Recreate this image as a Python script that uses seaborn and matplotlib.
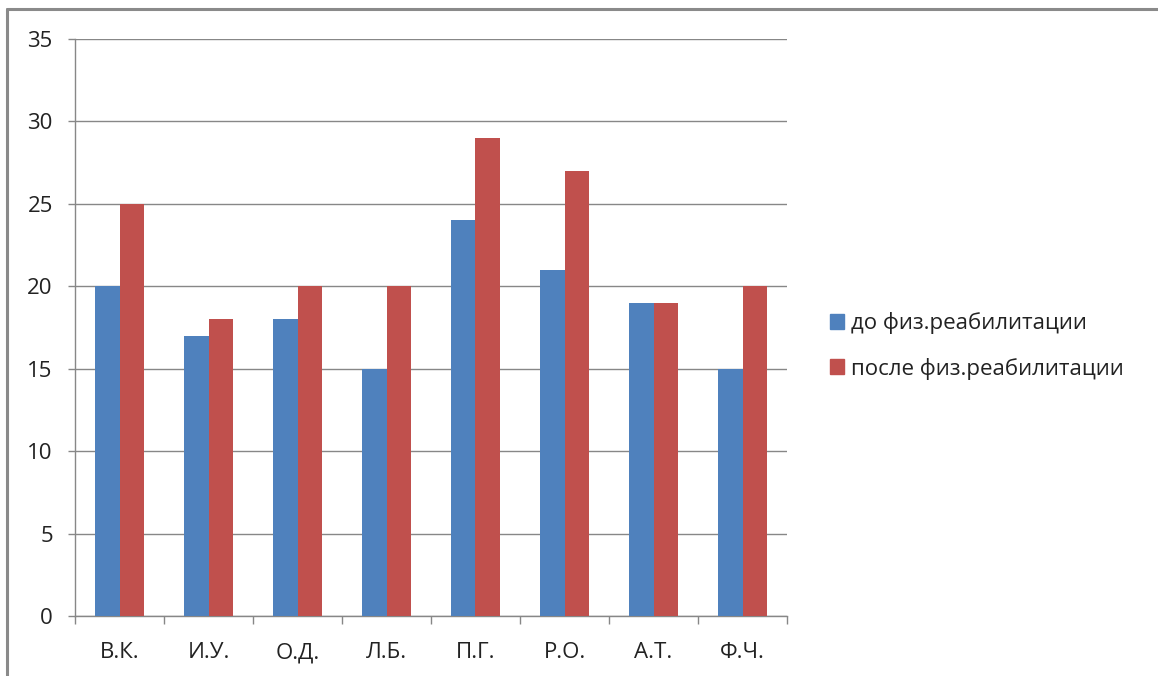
import matplotlib
matplotlib.use("Agg")
import matplotlib.pyplot as plt
from matplotlib.lines import Line2D
import seaborn as sns
import pandas as pd

# Scores per patient before and after physical rehabilitation
patients = ["В.К.", "И.У.", "О.Д.", "Л.Б.", "П.Г.", "Р.О.", "А.Т.", "Ф.Ч."]
before = [20, 17, 18, 15, 24, 21, 19, 15]
after = [25, 18, 20, 20, 29, 27, 19, 20]
series_names = ["до физ.реабилитации", "после физ.реабилитации"]
y_ticks = [0, 5, 10, 15, 20, 25, 30, 35]

sns.set_theme(style="white")
plt.rcParams["font.family"] = ["Open Sans", "DejaVu Sans"]

df = pd.DataFrame({
    "patient": patients * 2,
    "value": before + after,
    "series": [series_names[0]] * len(patients) + [series_names[1]] * len(patients),
})

fig = plt.figure(figsize=(11.58, 6.76), dpi=100)
ax = fig.add_axes([75 / 1158, 1 - 616 / 676, (787 - 75) / 1158, (616 - 39) / 676])

palette = {series_names[0]: "#4F81BD", series_names[1]: "#C0504D"}
sns.barplot(data=df, x="patient", y="value", hue="series", palette=palette,
            order=patients, hue_order=series_names, width=0.56,
            saturation=1, ax=ax, errorbar=None, zorder=3, linewidth=0)

grid_color = "#878787"
ax.set_ylim(0, 35)
ax.set_xlim(-0.5, len(patients) - 0.5)
ax.set_yticks(y_ticks)
ax.yaxis.grid(True, color=grid_color, linewidth=1.0, zorder=0)
ax.xaxis.grid(False)
ax.set_xlabel("")
ax.set_ylabel("")

for side in ["top", "right"]:
    ax.spines[side].set_visible(False)
for side in ["left", "bottom"]:
    ax.spines[side].set_color(grid_color)
    ax.spines[side].set_linewidth(1.0)

label_size = 16
ax.tick_params(axis="y", which="major", length=5, width=1.0, color=grid_color,
               direction="out", left=True, pad=11, labelsize=label_size,
               labelcolor="#222222")
ax.tick_params(axis="x", which="major", length=0, pad=19, labelsize=label_size,
               labelcolor="#222222")
ax.set_xticks([i - 0.5 for i in range(len(patients) + 1)], minor=True)
ax.tick_params(axis="x", which="minor", length=6, width=1.0, color=grid_color,
               direction="out", bottom=True)

handles = [plt.Rectangle((0, 0), 1, 1, color=palette[n]) for n in series_names]
leg = ax.legend(handles, series_names, loc="center left",
                bbox_to_anchor=(1.032, 0.468), frameon=False, fontsize=16,
                handlelength=0.65, handleheight=0.65, handletextpad=0.3,
                labelspacing=1.05)
for t in leg.get_texts():
    t.set_color("#222222")

# Outer chart frame (top and left edges visible)
frame_color = "#8a8a8a"
fig.add_artist(Line2D([7 / 1158, 1.0], [1 - 9 / 676, 1 - 9 / 676],
                      transform=fig.transFigure, color=frame_color, linewidth=2.2))
fig.add_artist(Line2D([7 / 1158, 7 / 1158], [0.0, 1 - 9 / 676],
                      transform=fig.transFigure, color=frame_color, linewidth=2.2))

fig.savefig("out.png", dpi=100)
